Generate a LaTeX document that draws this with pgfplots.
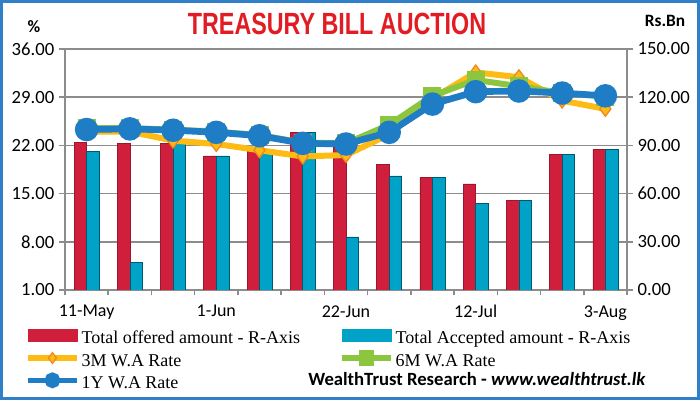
\documentclass[border=0pt]{standalone}
\usepackage{fontspec}
\setmainfont{Carlito}
\newfontfamily\legfont{Liberation Serif}
\newfontfamily\titlefont{Liberation Sans}
\usepackage{graphicx}
\usepackage{pgfplots}
\pgfplotsset{compat=1.18}

\definecolor{barred}{HTML}{D01F3C}
\definecolor{barblue}{HTML}{00A2C7}
\definecolor{line3m}{HTML}{FDBB13}
\definecolor{mark3m}{HTML}{F08A1E}
\definecolor{line6m}{HTML}{8CC63F}
\definecolor{line1y}{HTML}{1F7DC6}
\definecolor{gridgray}{HTML}{8C8C8C}
\definecolor{titlered}{HTML}{E31B23}
\definecolor{frameblue}{HTML}{2F80C8}

\pgfplotsset{
 lineleg/.style={legend image code/.code={\draw[mark repeat=2,mark phase=2,##1,line width=3.8pt,mark size=4pt] plot coordinates {(0pt,3pt) (18.5pt,3pt) (37pt,3pt)};}},
 common/.style={scale only axis, width=421.5pt, height=180.75pt, at={(48.75pt,82.5pt)}, anchor=south west,
   xmin=-0.5, xmax=12.5,
   axis line style={gridgray, line width=1.1pt},
   tick style={gridgray, line width=1.1pt},
   tick align=outside, major tick length=4.5pt, minor tick length=4pt,
   tick label style={font=\fontsize{14}{16}\selectfont},
   yticklabel style={/pgf/number format/.cd, fixed, fixed zerofill, precision=2, assume math mode=true},
 },
}

\begin{document}
\begin{tikzpicture}
\useasboundingbox (0,0) rectangle (525pt,300pt);
\fill[white] (0,0) rectangle (525pt,300pt);

\begin{axis}[common,
  ymin=0, ymax=150, ytick={0,30,...,150},
  axis y line*=right, axis x line*=bottom,
  ymajorgrids, grid style={gridgray, line width=1.1pt},
  xtick={0,3,6,9,12},
  xticklabels={11-May,1-Jun,22-Jun,12-Jul,3-Aug},
  minor xtick={-0.5,0.5,...,12.5},
  major x tick style={draw=none},
  xticklabel style={font=\fontsize{13.5}{15}\selectfont, yshift=-3.5pt},
  ybar=0pt, bar width=9.4pt]
\addplot[fill=barred, draw=barred!75!black, line width=0.5pt] coordinates {
 (0,92) (1,91) (2,91) (3,83.5) (4,88) (5,98) (6,89) (7,78) (8,70) (9,66) (10,55.5) (11,84.5) (12,87.5)};
\addplot[fill=barblue, draw=barblue!55!black, line width=0.5pt] coordinates {
 (0,86) (1,17) (2,91) (3,83.5) (4,86) (5,98) (6,33) (7,71) (8,70) (9,54) (10,55.5) (11,84.5) (12,87.5)};
\end{axis}

\begin{axis}[common,
  ymin=1, ymax=36, ytick={1,8,...,36},
  axis y line*=left, axis x line=none, clip=false,
  legend columns=2, legend cell align=left,
  legend style={at={(axis description cs:-0.0712,-0.162)}, anchor=north west, draw=none, fill=none,
    font=\legfont\fontsize{13.5}{15}\selectfont, inner sep=0pt, row sep=1.25pt,
    nodes={inner sep=1.5pt, text height=9.5pt, text depth=3pt},
    /tikz/every even column/.append style={column sep=28pt}}]
\addlegendimage{legend image code/.code={\fill[barred] (0pt,-1.5pt) rectangle (37pt,7.5pt);}}
\addlegendentry{Total offered amount - R-Axis}
\addlegendimage{legend image code/.code={\fill[barblue] (0pt,-1.5pt) rectangle (37pt,7.5pt);}}
\addlegendentry{Total Accepted amount - R-Axis}
\addplot[lineleg, color=line3m, line width=4.5pt, mark=diamond*, mark size=5.5pt,
  mark options={fill=line3m, draw=mark3m, line width=1pt}] coordinates {
 (0,24.0) (1,24.0) (2,22.7) (3,22.2) (4,21.3) (5,20.4) (6,20.6) (7,23.6) (8,28.8) (9,32.6) (10,31.9) (11,28.5) (12,27.3)};
\addlegendentry{3M W.A Rate}
\addplot[lineleg, color=line6m, line width=4.5pt, mark=square*, mark size=4.5pt,
  mark options={fill=line6m, draw=line6m}] coordinates {
 (0,24.5) (1,24.5) (2,24.3) (3,24.0) (4,23.5) (5,22.4) (6,22.3) (7,25.0) (8,29.2) (9,31.5) (10,30.6) (11,29.6) (12,29.1)};
\addlegendentry{6M W.A Rate}
\addplot[lineleg, color=line1y, line width=5pt, mark=*, mark size=6.3pt,
  mark options={fill=line1y, draw=line1y}] coordinates {
 (0,24.3) (1,24.4) (2,24.2) (3,23.9) (4,23.4) (5,22.3) (6,22.2) (7,23.9) (8,28.0) (9,29.8) (10,29.9) (11,29.6) (12,29.2)};
\addlegendentry{1Y W.A Rate}
\end{axis}

\node[titlered, font=\titlefont\bfseries\fontsize{23}{25}\selectfont] at (252.75pt,282pt) {\scalebox{0.76}[1]{TREASURY BILL AUCTION}};
\node[font=\bfseries\fontsize{13}{15}\selectfont] at (25.5pt,279.75pt) {\%};
\node[font=\bfseries\fontsize{13}{15}\selectfont] at (498.75pt,284.25pt) {Rs.Bn};
\node[anchor=base west, inner sep=0pt, font=\bfseries\fontsize{14}{16}\selectfont] at (231pt,10.5pt) {WealthTrust Research - \textit{www.wealthtrust.lk}};

\draw[frameblue, line width=2.5pt] (1.25pt,1.25pt) rectangle (523.75pt,298.75pt);
\end{tikzpicture}
\end{document}
